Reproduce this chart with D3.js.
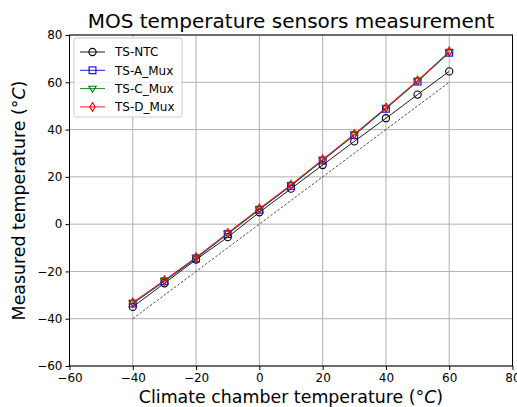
<!DOCTYPE html>
<html>
<head>
<meta charset="utf-8">
<script src="https://cdn.jsdelivr.net/npm/d3@7"></script>
<style>
  body { margin: 0; background: #fff; }
  text { font-family: "DejaVu Sans", sans-serif; }
</style>
</head>
<body>
<script>
const w = 517;
const h = 407;

// chamber setpoints and sensor readings
const chamber = [-40, -30, -20, -10, 0, 10, 20, 30, 40, 50, 60];
const tsNTC = [-35, -25, -15, -5.5, 5, 15, 25, 35, 44.8, 54.8, 64.6];
const tsA = [-33.6, -24.2, -14.5, -4.2, 6.1, 16.2, 26.9, 37.6, 48.8, 60.3, 72.5];
const tsC = [-33.4, -24.0, -14.3, -4.0, 6.3, 16.4, 27.1, 37.8, 49.0, 60.5, 72.7];
const tsD = [-33.1, -23.7, -14.0, -3.7, 6.6, 16.7, 27.4, 38.1, 49.3, 60.8, 73.0];
const xTicks = [-60, -40, -20, 0, 20, 40, 60, 80];
const yTicks = [-60, -40, -20, 0, 20, 40, 60, 80];

const series = [
  { name: 'TS-NTC', values: tsNTC, color: 'black', marker: 'circle' },
  { name: 'TS-A_Mux', values: tsA, color: 'blue', marker: 'square' },
  { name: 'TS-C_Mux', values: tsC, color: 'green', marker: 'tri' },
  { name: 'TS-D_Mux', values: tsD, color: 'red', marker: 'diamond' }
];

const m = { left: 69.5, right: 512.5, top: 35, bottom: 366 };

const x = d3.scaleLinear().domain([-60, 80]).range([m.left, m.right]);
const y = d3.scaleLinear().domain([-60, 80]).range([m.bottom, m.top]);

const svg = d3.select('body')
  .append('svg')
  .attr('width', w)
  .attr('height', h);

// grid
svg.append('g').selectAll('line')
  .data(xTicks)
  .enter()
  .append('line')
  .attr('x1', d => x(d)).attr('x2', d => x(d))
  .attr('y1', m.top).attr('y2', m.bottom)
  .attr('stroke', '#b0b0b0').attr('stroke-width', 1);
svg.append('g').selectAll('line')
  .data(yTicks)
  .enter()
  .append('line')
  .attr('y1', d => y(d)).attr('y2', d => y(d))
  .attr('x1', m.left).attr('x2', m.right)
  .attr('stroke', '#b0b0b0').attr('stroke-width', 1);

// axes
const fmt = d => String(d).replace('-', '\u2212');
const xAxis = svg.append('g')
  .attr('transform', `translate(0,${m.bottom})`)
  .call(d3.axisBottom(x).tickValues(xTicks).tickSize(4).tickPadding(3).tickFormat(fmt));
const yAxis = svg.append('g')
  .attr('transform', `translate(${m.left},0)`)
  .call(d3.axisLeft(y).tickValues(yTicks).tickSize(4).tickPadding(3).tickFormat(fmt));
[xAxis, yAxis].forEach(a => {
  a.select('.domain').remove();
  a.selectAll('text').style('font-family', '"DejaVu Sans", sans-serif').style('font-size', '12px').attr('fill', '#000');
  a.selectAll('line').attr('stroke', '#000').attr('stroke-width', 1);
});

svg.append('rect')
  .attr('x', m.left).attr('y', m.top)
  .attr('width', m.right - m.left).attr('height', m.bottom - m.top)
  .attr('fill', 'none').attr('stroke', '#000').attr('stroke-width', 1);

// reference y = x
svg.append('line')
  .attr('x1', x(-40)).attr('y1', y(-40))
  .attr('x2', x(60)).attr('y2', y(60))
  .attr('stroke', '#000').attr('stroke-width', 0.7)
  .attr('stroke-dasharray', '2.5,1.8');

const line = d3.line()
  .x((d, i) => x(chamber[i]))
  .y(d => y(d));

function drawMarker(g, type, color, cx, cy) {
  if (type === 'circle') {
    g.append('circle').attr('cx', cx).attr('cy', cy).attr('r', 3.6)
      .attr('fill', 'none').attr('stroke', color).attr('stroke-width', 1.1);
  } else if (type === 'square') {
    g.append('rect').attr('x', cx - 3.4).attr('y', cy - 3.4).attr('width', 6.8).attr('height', 6.8)
      .attr('fill', 'none').attr('stroke', color).attr('stroke-width', 1.1);
  } else if (type === 'tri') {
    g.append('path').attr('d', `M${cx - 3.7},${cy - 2.4}L${cx + 3.7},${cy - 2.4}L${cx},${cy + 3.7}Z`)
      .attr('fill', 'none').attr('stroke', color).attr('stroke-width', 1.1);
  } else {
    g.append('path').attr('d', `M${cx},${cy - 4.4}L${cx + 2.7},${cy}L${cx},${cy + 4.4}L${cx - 2.7},${cy}Z`)
      .attr('fill', 'none').attr('stroke', color).attr('stroke-width', 1.1);
  }
}

series.forEach(s => {
  const g = svg.append('g');
  g.append('path')
    .datum(s.values)
    .attr('d', line)
    .attr('fill', 'none')
    .attr('stroke', s.color)
    .attr('stroke-width', 0.9);
  s.values.forEach((v, i) => drawMarker(g, s.marker, s.color, x(chamber[i]), y(v)));
});

// legend
const lg = svg.append('g').attr('transform', 'translate(74,38)');
lg.append('rect')
  .attr('width', 108).attr('height', 79).attr('rx', 2.5)
  .attr('fill', 'rgba(255,255,255,0.8)').attr('stroke', '#ccc').attr('stroke-width', 1);
series.forEach((s, i) => {
  const ly = 14 + i * 18.3;
  lg.append('line').attr('x1', 6).attr('x2', 31).attr('y1', ly).attr('y2', ly)
    .attr('stroke', s.color).attr('stroke-width', 0.9);
  drawMarker(lg, s.marker, s.color, 18.5, ly);
  lg.append('text').attr('x', 41).attr('y', ly + 4.3)
    .style('font-size', '12px').text(s.name);
});

// titles
svg.append('text')
  .attr('x', (m.left + m.right) / 2).attr('y', 28)
  .attr('text-anchor', 'middle')
  .style('font-size', '20px')
  .text('MOS temperature sensors measurement');

const xl = svg.append('text')
  .attr('x', (m.left + m.right) / 2).attr('y', 403)
  .attr('text-anchor', 'middle')
  .style('font-size', '17.4px');
xl.append('tspan').text('Climate chamber temperature (°');
xl.append('tspan').style('font-style', 'italic').text('C');
xl.append('tspan').text(')');

const yl = svg.append('text')
  .attr('transform', `translate(25,${(m.top + m.bottom) / 2}) rotate(-90)`)
  .attr('text-anchor', 'middle')
  .style('font-size', '17.4px');
yl.append('tspan').text('Measured temperature (°');
yl.append('tspan').style('font-style', 'italic').text('C');
yl.append('tspan').text(')');
</script>
</body>
</html>
